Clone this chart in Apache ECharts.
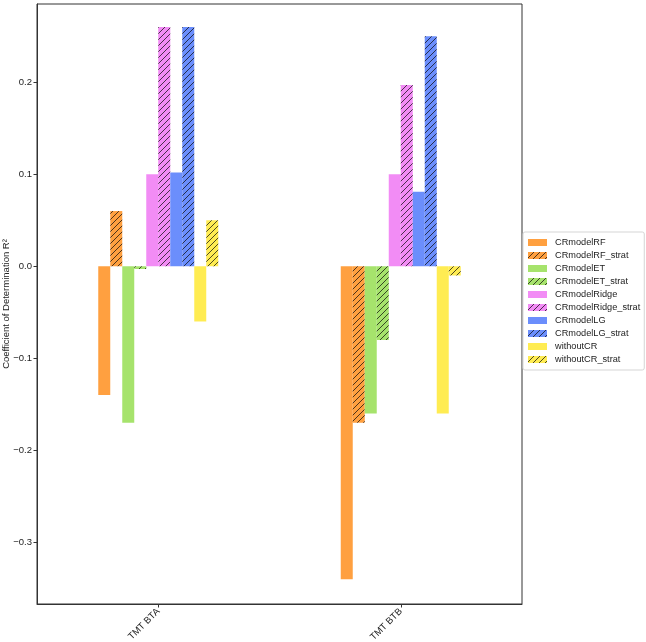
<!DOCTYPE html>
<html>
<head>
<meta charset="utf-8">
<script src="https://cdn.jsdelivr.net/npm/echarts@6/dist/echarts.min.js"></script>
<style>
  html, body { margin: 0; padding: 0; background: #fff; }
  #chart { width: 646px; height: 642px; }
</style>
</head>
<body>
<div id="chart"></div>
<script>
// data
const categories = ['TMT BTA', 'TMT BTB'];
const seriesNames = [
  'CRmodelRF', 'CRmodelRF_strat', 'CRmodelET', 'CRmodelET_strat',
  'CRmodelRidge', 'CRmodelRidge_strat', 'CRmodelLG', 'CRmodelLG_strat',
  'withoutCR', 'withoutCR_strat'
];
const rfVals = [-0.14, -0.34];
const rfStratVals = [0.06, -0.17];
const etVals = [-0.17, -0.16];
const etStratVals = [-0.003, -0.08];
const ridgeVals = [0.10, 0.10];
const ridgeStratVals = [0.26, 0.197];
const lgVals = [0.102, 0.081];
const lgStratVals = [0.26, 0.25];
const withoutVals = [-0.06, -0.16];
const withoutStratVals = [0.05, -0.01];
const yTicks = [-0.3, -0.2, -0.1, 0.0, 0.1, 0.2];

const seriesValues = [rfVals, rfStratVals, etVals, etStratVals, ridgeVals,
  ridgeStratVals, lgVals, lgStratVals, withoutVals, withoutStratVals];
const baseColors = ['#ffa040', '#ffa040', '#a6e36c', '#a6e36c', '#f28cf5',
  '#f28cf5', '#6b8efc', '#6b8efc', '#ffec52', '#ffec52'];

// diagonal "//" hatch on top of the base colour
function hatch(color) {
  const s = 6;
  const c = document.createElement('canvas');
  c.width = s; c.height = s;
  const ctx = c.getContext('2d');
  ctx.fillStyle = color;
  ctx.fillRect(0, 0, s, s);
  ctx.strokeStyle = 'rgba(10,10,10,0.8)';
  ctx.lineWidth = 0.9;
  ctx.beginPath();
  ctx.moveTo(0, s); ctx.lineTo(s, 0);
  ctx.moveTo(-1, 1); ctx.lineTo(1, -1);
  ctx.moveTo(s - 1, s + 1); ctx.lineTo(s + 1, s - 1);
  ctx.stroke();
  return { image: c, repeat: 'repeat' };
}

const fontFam = '"Liberation Sans", Arial, sans-serif';
const myChart = echarts.init(document.getElementById('chart'), null, { renderer: 'canvas' });

const series = seriesNames.map((name, i) => ({
  name: name,
  type: 'bar',
  barWidth: 12,
  barGap: '0%',
  data: seriesValues[i],
  itemStyle: {
    color: name.endsWith('_strat') ? hatch(baseColors[i]) : baseColors[i]
  },
  emphasis: { disabled: true }
}));

const option = {
  animation: false,
  backgroundColor: '#fff',
  grid: {
    left: 37, right: 124, top: 4, bottom: 38,
    containLabel: false,
    outerBoundsMode: 'none',
    show: true, borderColor: '#333', borderWidth: 1, backgroundColor: 'transparent'
  },
  legend: {
    data: seriesNames,
    orient: 'vertical',
    left: 523, top: 232,
    padding: [5, 4, 5, 5],
    itemWidth: 19, itemHeight: 7, itemGap: 2,
    icon: 'rect',
    backgroundColor: '#fff',
    borderColor: '#d5d5d5', borderWidth: 1, borderRadius: 2,
    textStyle: { fontFamily: fontFam, fontSize: 9.2, lineHeight: 11, color: '#222', padding: [0, 0, 0, 3] }
  },
  xAxis: {
    type: 'category',
    data: categories,
    axisLine: { show: true, onZero: false, lineStyle: { color: '#333' } },
    axisTick: { show: true, alignWithLabel: true, length: 3.5, lineStyle: { color: '#333' } },
    axisLabel: { rotate: 45, fontFamily: fontFam, fontSize: 9.5, color: '#222', margin: 6 },
    splitLine: { show: false }
  },
  yAxis: {
    type: 'value',
    min: -0.367, max: 0.285,
    name: 'Coefficient of Determination R\u00b2',
    nameLocation: 'middle',
    nameGap: 26,
    nameMoveOverlap: false,
    nameTextStyle: { fontFamily: fontFam, fontSize: 9.5, color: '#222' },
    axisLine: { show: true, lineStyle: { color: '#333' } },
    axisTick: { show: true, length: 3.5, customValues: yTicks, lineStyle: { color: '#333' } },
    axisLabel: {
      customValues: yTicks,
      fontFamily: fontFam, fontSize: 9.5, color: '#222', margin: 5,
      formatter: v => (v < -1e-9 ? '\u2212' : '') + Math.abs(v).toFixed(1)
    },
    splitLine: { show: false }
  },
  series: series
};
myChart.setOption(option);
</script>
</body>
</html>
